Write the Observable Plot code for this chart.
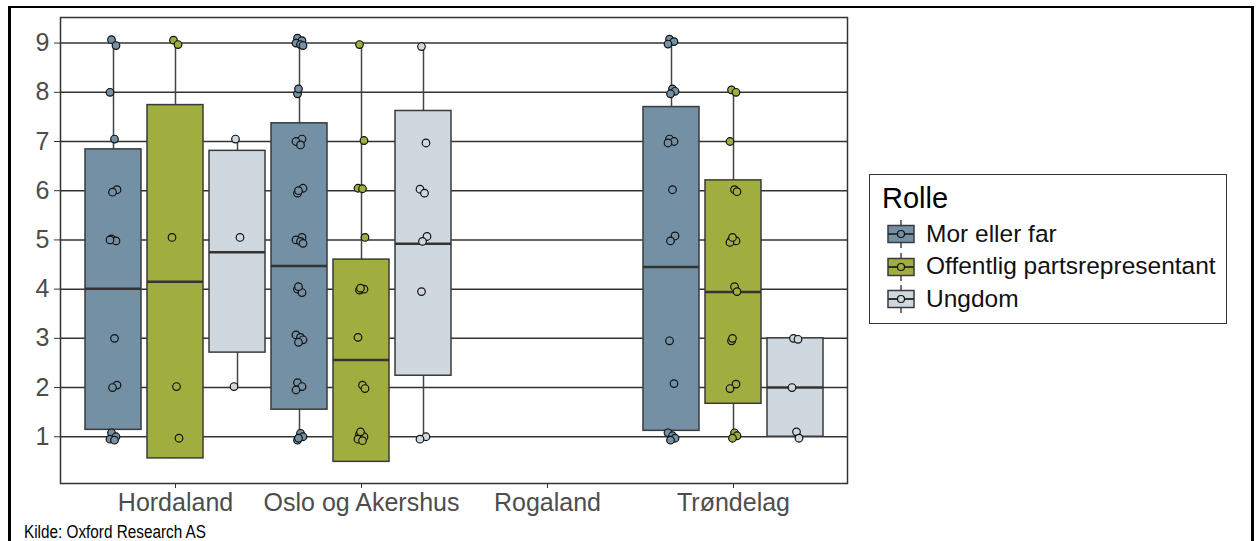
<!DOCTYPE html>
<html>
<head>
<meta charset="utf-8">
<script src="https://cdn.jsdelivr.net/npm/d3@7"></script>
<script src="https://cdn.jsdelivr.net/npm/@observablehq/plot@0.6"></script>
<style>
  html, body { margin: 0; padding: 0; background: #fff; overflow: hidden; }
  #page { position: relative; width: 1257px; height: 541px; font-family: "Liberation Sans", Arial, sans-serif; }
  #outer { position: absolute; left: 8px; top: 6px; width: 1240px; height: 560px;
           border-top: 2px solid #000; border-left: 3px solid #000; border-right: 3px solid #000; }
  #chart { position: absolute; left: 0; top: 0; }
  #legend { position: absolute; left: 869px; top: 174px; width: 356px; height: 148px;
            border: 1.5px solid #333; background: #fff; }
  .ltitle { position: absolute; left: 12px; top: 9px; font-size: 29px; color: #000; line-height: 1; }
  .lrow { position: absolute; left: 17px; height: 32px; display: flex; align-items: center; }
  .lrow span { margin-left: 11px; font-size: 24.5px; color: #111; line-height: 1; }
  #caption { position: absolute; left: 24px; top: 523px; font-family: "Liberation Sans", Arial, sans-serif;
             font-size: 18px; color: #000; line-height: 1; transform: scaleX(0.85); transform-origin: 0 0; white-space: nowrap; }
</style>
</head>
<body>
<div id="page">
  <div id="outer"></div>
  <div id="chart"></div>
  <div id="legend"></div>
  <div id="caption">Kilde: Oxford Research AS</div>
</div>
<script>
// ---- Data ----
const regions = ["Hordaland", "Oslo og Akershus", "Rogaland", "Trøndelag"];
const roles = ["Mor eller far", "Offentlig partsrepresentant", "Ungdom"];
const roleColors = ["#7390a4", "#a0ae40", "#d0d8df"];
const yTicks = [1, 2, 3, 4, 5, 6, 7, 8, 9];

// Box statistics per group
const boxRegion = ["Hordaland", "Hordaland", "Hordaland",
                   "Oslo og Akershus", "Oslo og Akershus", "Oslo og Akershus",
                   "Trøndelag", "Trøndelag", "Trøndelag"];
const boxRole = ["Mor eller far", "Offentlig partsrepresentant", "Ungdom",
                 "Mor eller far", "Offentlig partsrepresentant", "Ungdom",
                 "Mor eller far", "Offentlig partsrepresentant", "Ungdom"];
const boxQ1     = [1.14, 0.56, 2.71, 1.55, 0.49, 2.24, 1.12, 1.67, 1.00];
const boxMedian = [4.01, 4.15, 4.75, 4.47, 2.56, 4.92, 4.45, 3.94, 2.00];
const boxQ3     = [6.84, 7.74, 6.81, 7.37, 4.60, 7.62, 7.70, 6.21, 3.00];
const boxLow    = [0.95, 0.56, 2.02, 0.95, 0.49, 0.97, 0.95, 0.98, 1.00];
const boxHigh   = [9.06, 9.05, 7.05, 9.08, 8.97, 8.93, 9.07, 8.05, 3.00];

// Individual (jittered) answers per group
const ptsHordalandMor = [9.07, 8.95, 8.0, 7.05, 6.02, 5.97, 5.02, 4.98, 5.0, 3.0, 2.05, 2.0, 1.08, 1.0, 0.95, 0.93];
const ptsHordalandOff = [9.06, 8.97, 5.05, 2.02, 0.97];
const ptsHordalandUng = [7.05, 5.05, 2.02];
const ptsOsloMor = [9.1, 9.05, 9.0, 8.97, 8.95, 8.07, 7.97, 7.05, 7.0, 6.93, 6.05, 6.0, 5.95, 5.05, 5.0, 4.97, 4.93,
                    4.05, 4.0, 3.93, 3.07, 3.02, 2.97, 2.92, 2.1, 2.02, 1.95, 1.07, 1.0, 0.97, 0.93];
const ptsOsloOff = [8.97, 7.02, 6.05, 6.04, 5.05, 4.02, 3.98, 4.0, 3.02, 2.05, 1.98, 1.1, 1.05, 1.0, 0.95, 0.92];
const ptsOsloUng = [8.93, 6.97, 6.03, 5.95, 5.07, 4.97, 3.95, 1.0, 0.95];
const ptsTrondMor = [9.08, 9.03, 8.98, 8.07, 8.02, 7.97, 7.05, 7.0, 6.97, 6.02, 5.08, 4.98, 2.95, 2.08, 1.08, 1.02, 0.97, 0.93];
const ptsTrondOff = [8.05, 8.0, 7.0, 6.02, 5.98, 5.05, 5.0, 4.98, 4.95, 4.05, 3.95, 3.0, 2.95, 2.07, 1.98, 1.08, 1.02, 0.97];
const ptsTrondUng = [3.0, 2.98, 2.0, 1.1, 0.97];

const pointGroups = [
  ["Hordaland", "Mor eller far", ptsHordalandMor],
  ["Hordaland", "Offentlig partsrepresentant", ptsHordalandOff],
  ["Hordaland", "Ungdom", ptsHordalandUng],
  ["Oslo og Akershus", "Mor eller far", ptsOsloMor],
  ["Oslo og Akershus", "Offentlig partsrepresentant", ptsOsloOff],
  ["Oslo og Akershus", "Ungdom", ptsOsloUng],
  ["Trøndelag", "Mor eller far", ptsTrondMor],
  ["Trøndelag", "Offentlig partsrepresentant", ptsTrondOff],
  ["Trøndelag", "Ungdom", ptsTrondUng]
];

// ---- Build tables ----
const key = (reg, role) => reg + "|" + role;
const xDomain = regions.flatMap(r => roles.map(ro => key(r, ro)));
const xTickKeys = regions.map(r => key(r, roles[1]));

const boxes = boxRegion.map((r, i) => ({
  key: key(r, boxRole[i]), role: boxRole[i],
  q1: boxQ1[i], median: boxMedian[i], q3: boxQ3[i], lo: boxLow[i], hi: boxHigh[i]
}));
const points = pointGroups.flatMap(([r, ro, vals]) =>
  vals.map((v, j) => ({key: key(r, ro), role: ro, value: v, j})));

// small horizontal jitter offsets (style)
const jitterOffsets = [-2, 2.5, -3.5, 1, 3.5, -1];

const textColor = "#4d4d4d";

const chart = Plot.plot({
  width: 860,
  height: 530,
  marginLeft: 60,
  marginRight: 13,
  marginTop: 17,
  marginBottom: 47,
  style: {fontFamily: "'Liberation Sans', Arial, sans-serif", fontSize: "25px", background: "transparent", overflow: "visible"},
  x: {type: "band", domain: xDomain, paddingInner: 0.1, paddingOuter: 0.35, axis: null, label: null},
  y: {domain: [0.05, 9.52], axis: null, label: null},
  color: {domain: roles, range: roleColors},
  marks: [
    Plot.ruleY(yTicks, {stroke: "#333", strokeWidth: 1.5}),
    Plot.ruleX(boxes, {x: "key", y1: "lo", y2: "hi", stroke: "#444", strokeWidth: 1.5}),
    Plot.barY(boxes, {x: "key", y1: "q1", y2: "q3", fill: "role", stroke: "#3a3a3a", strokeWidth: 1.5}),
    Plot.tickY(boxes, {x: "key", y: "median", stroke: "#333", strokeWidth: 2.5}),
    ...jitterOffsets.map((dx, k) =>
      Plot.dot(points.filter(d => d.j % jitterOffsets.length === k),
        {x: "key", y: "value", dx, r: 3.8, fill: "role", stroke: "#111", strokeWidth: 1.2})),
    Plot.frame({stroke: "#333", strokeWidth: 1.5}),
    Plot.axisY(yTicks, {tickSize: 6, tickPadding: 5, tickFormat: d => String(d), stroke: "#333",
                        fill: textColor, fontSize: 25, label: null}),
    Plot.axisX(xTickKeys, {tickSize: 5, tickPadding: 5, tickFormat: k => k.split("|")[0], stroke: "#333",
                           fill: textColor, fontSize: 25, label: null})
  ]
});
document.getElementById("chart").appendChild(chart);

// ---- Legend ----
const legend = document.getElementById("legend");
const t = document.createElement("div");
t.className = "ltitle";
t.textContent = "Rolle";
legend.appendChild(t);
const rowTops = [43, 75.5, 108];
roles.forEach((ro, i) => {
  const row = document.createElement("div");
  row.className = "lrow";
  row.style.top = rowTops[i] + "px";
  const ns = "http://www.w3.org/2000/svg";
  const svg = document.createElementNS(ns, "svg");
  svg.setAttribute("width", 28); svg.setAttribute("height", 30);
  const mk = (tag, attrs) => { const e = document.createElementNS(ns, tag); for (const k in attrs) e.setAttribute(k, attrs[k]); svg.appendChild(e); };
  mk("line", {x1: 14, x2: 14, y1: 1, y2: 29, stroke: "#444", "stroke-width": 1.5});
  mk("rect", {x: 1, y: 6.5, width: 26, height: 17, fill: roleColors[i], stroke: "#3a3a3a", "stroke-width": 1.5});
  mk("line", {x1: 1, x2: 27, y1: 15, y2: 15, stroke: "#333", "stroke-width": 2});
  mk("circle", {cx: 14, cy: 15, r: 3.5, fill: roleColors[i], stroke: "#111", "stroke-width": 1.2});
  row.appendChild(svg);
  const s = document.createElement("span");
  s.textContent = ro;
  row.appendChild(s);
  legend.appendChild(row);
});
</script>
</body>
</html>
